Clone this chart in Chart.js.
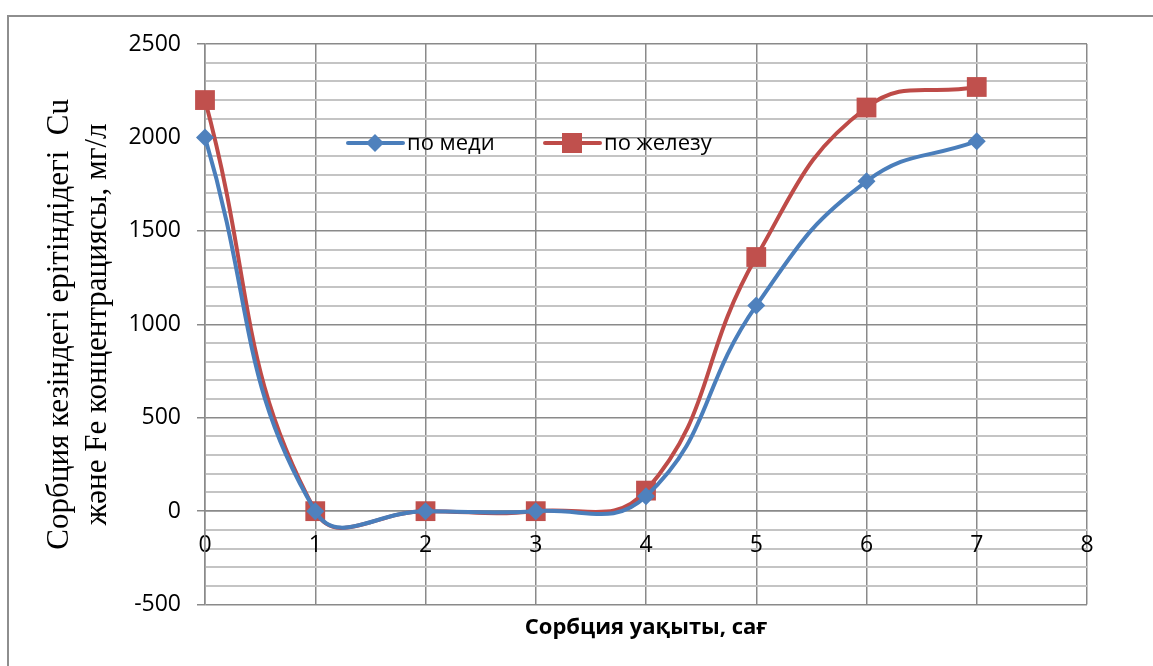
<!DOCTYPE html>
<html>
<head>
<meta charset="utf-8">
<script src="https://cdn.jsdelivr.net/npm/chart.js@4/dist/chart.umd.min.js"></script>
<style>
  html, body { margin: 0; padding: 0; background: #fff; overflow: hidden; }
  #frame { position: absolute; left: 7px; top: 15px; width: 1170px; height: 680px; border: 2px solid #8e8e8e; }
  #wrap { position: absolute; left: 0; top: 0; width: 1153px; height: 666px; }
</style>
</head>
<body>
<div id="frame"></div>
<div id="wrap"><canvas id="sorbChart"></canvas></div>
<script>
// ─── DATA ───
const hours = [0, 1, 2, 3, 4, 5, 6, 7];
const copper = [2000, 0, 0, 0, 80, 1100, 1765, 1980];
const iron = [2200, 0, 0, 0, 110, 1360, 2160, 2270];
const seriesNames = ['по меди', 'по железу'];
const xTitle = 'Сорбция уақыты, сағ';
const yTitle = ['Сорбция кезіндегі ерітіндідегі  Cu', 'және Fe концентрациясы, мг/л'];

const BLUE = '#4a7ebb';
const BLUE_MK = '#4f81bd';
const RED = '#be4b48';
const RED_MK = '#c0504d';
const GRID_MAJOR = '#8a8a8a';
const GRID_MINOR = '#c4c4c4';
const TICK_FONT = { family: 'Open Sans', size: 23 };

// ─── LEGEND INSIDE THE PLOT ───
const innerLegend = {
    id: 'innerLegend',
    afterDatasetsDraw(chart) {
        const ctx = chart.ctx;
        const a = chart.chartArea;
        const y = a.top + 99;
        const items = [
            { x: a.left + 143, color: BLUE, mk: BLUE_MK, shape: 'diamond', text: seriesNames[0] },
            { x: a.left + 340, color: RED, mk: RED_MK, shape: 'square', text: seriesNames[1] }
        ];
        ctx.save();
        items.forEach(it => {
            ctx.strokeStyle = it.color;
            ctx.lineWidth = 4;
            ctx.lineCap = 'round';
            ctx.beginPath();
            ctx.moveTo(it.x, y);
            ctx.lineTo(it.x + 55, y);
            ctx.stroke();
            const cx = it.x + 27;
            ctx.fillStyle = it.mk;
            ctx.beginPath();
            if (it.shape === 'diamond') {
                ctx.moveTo(cx, y - 9);
                ctx.lineTo(cx + 9, y);
                ctx.lineTo(cx, y + 9);
                ctx.lineTo(cx - 9, y);
                ctx.closePath();
            } else {
                ctx.rect(cx - 10, y - 10, 20, 20);
            }
            ctx.fill();
            ctx.fillStyle = '#000';
            ctx.font = '22px "Open Sans"';
            ctx.textBaseline = 'middle';
            ctx.textAlign = 'left';
            ctx.fillText(it.text, it.x + 59, y + 1);
        });
        ctx.restore();
    }
};

const ctx = document.getElementById('sorbChart').getContext('2d');
const sorbChart = new Chart(ctx, {
    type: 'line',
    data: {
        datasets: [
            {
                label: seriesNames[0],
                data: hours.map((h, i) => ({ x: h, y: copper[i] })),
                borderColor: BLUE,
                backgroundColor: BLUE_MK,
                borderWidth: 4,
                tension: 0.45,
                clip: false,
                pointStyle: 'rectRot',
                pointRadius: 9,
                pointBorderWidth: 0,
                pointBackgroundColor: BLUE_MK,
                fill: false
            },
            {
                label: seriesNames[1],
                data: hours.map((h, i) => ({ x: h, y: iron[i] })),
                borderColor: RED,
                backgroundColor: RED_MK,
                borderWidth: 4,
                tension: 0.45,
                clip: false,
                pointStyle: 'rect',
                pointRadius: 14,
                pointBorderWidth: 0,
                pointBackgroundColor: RED_MK,
                fill: false
            }
        ]
    },
    options: {
        responsive: true,
        maintainAspectRatio: false,
        animation: false,
        layout: { padding: { left: 0, right: 66, top: 44, bottom: 0 } },
        scales: {
            x: {
                type: 'linear',
                position: { y: 0 },
                min: 0,
                max: 8,
                ticks: { stepSize: 1, font: TICK_FONT, color: '#000', padding: 20, maxRotation: 0 },
                grid: { color: GRID_MAJOR, lineWidth: 1.5, drawTicks: false },
                border: { color: GRID_MAJOR, width: 1.5 }
            },
            x2: {
                type: 'linear',
                position: 'bottom',
                min: 0,
                max: 8,
                ticks: { display: false },
                grid: { display: false, drawTicks: false },
                border: { display: false },
                title: {
                    display: true,
                    text: xTitle,
                    color: '#000',
                    font: { family: 'Open Sans', size: 22, weight: 'bold', lineHeight: 1.2 },
                    padding: { top: 10, bottom: 25 }
                }
            },
            y: {
                min: -500,
                max: 2500,
                afterFit(scale) { scale.width = 205; },
                ticks: {
                    stepSize: 100,
                    autoSkip: false,
                    font: TICK_FONT,
                    color: '#000',
                    padding: 16,
                    callback: v => (v % 500 === 0 ? v : '')
                },
                grid: {
                    color: c => (c.tick && c.tick.value % 500 === 0 ? GRID_MAJOR : GRID_MINOR),
                    lineWidth: c => (c.tick && c.tick.value % 500 === 0 ? 1.5 : 2),
                    tickColor: c => (c.tick && c.tick.value % 500 === 0 ? GRID_MAJOR : 'rgba(0,0,0,0)'),
                    tickLength: 8
                },
                border: { color: GRID_MAJOR, width: 1.5 },
                title: {
                    display: true,
                    text: yTitle,
                    color: '#000',
                    font: { family: 'Liberation Serif', size: 31, lineHeight: 1.25 },
                    padding: { top: 40, bottom: 0 }
                }
            }
        },
        plugins: {
            legend: { display: false },
            tooltip: { enabled: false }
        }
    },
    plugins: [innerLegend]
});
</script>
</body>
</html>
